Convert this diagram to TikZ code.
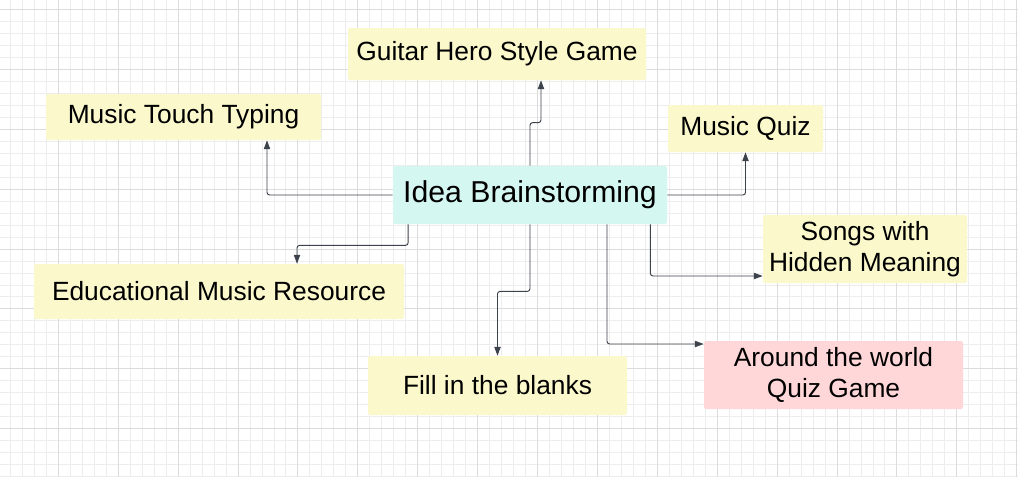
\documentclass[tikz,border=0pt]{standalone}
\usepackage{fontspec}
\setmainfont{Liberation Sans}
\usetikzlibrary{calc}
\usetikzlibrary{positioning}
\usetikzlibrary{arrows.meta}

\definecolor{ideacyan}{HTML}{D5F7F1}
\definecolor{noteyellow}{HTML}{FBF9CC}
\definecolor{notepink}{HTML}{FFD7D8}
\definecolor{linkgray}{HTML}{3D434C}
\definecolor{gridminor}{HTML}{EDEDED}
\definecolor{gridmajor}{HTML}{DCDCDC}

\tikzset{
  note/.style 2 args={rectangle,rounded corners=1.2pt,inner sep=0pt,align=center,
    minimum width=#1*0.02cm,minimum height=#2*0.02cm,fill=noteyellow,
    font=\fontsize{15}{17.6}\selectfont},
  link/.style={draw=linkgray,line width=0.55pt,rounded corners=1.5pt,
    -{Triangle[length=5pt,width=3.6pt]}},
}

\begin{document}
\begin{tikzpicture}[x=0.02cm,y=-0.02cm]
            \useasboundingbox (0,0) rectangle (1018,477);
            \fill [white] (0,0) rectangle (1018,477);

            % grid
            \foreach \k in {0,...,84}
                \draw [gridminor,line width=0.5pt] ({10.38+11.98*\k},0) -- ++(0,477);
            \foreach \k in {0,...,39}
                \draw [gridminor,line width=0.5pt] (0,{9.4+11.98*\k}) -- ++(1018,0);
            \foreach \k in {0,...,16}
                \draw [gridmajor,line width=0.5pt] ({58.3+59.9*\k},0) -- ++(0,477);
            \foreach \k in {0,...,7}
                \draw [gridmajor,line width=0.5pt] (0,{9.4+59.9*\k}) -- ++(1018,0);

            \node [note={274}{58},fill=ideacyan,font=\fontsize{17.2}{20.6}\selectfont] (idea) at (530,195) {Idea Brainstorming};
            \node [note={298}{52}] (guitar) at (497,54) {Guitar Hero Style Game};
            \node [note={275}{46}] (typing) at (183.5,117) {Music Touch Typing};
            \node [note={155}{47}] (quiz) at (745.5,128.5) {Music Quiz};
            \node [note={204}{68}] (songs) at (865,249) {Songs with\\Hidden Meaning};
            \node [note={259}{68},fill=notepink] (world) at (833.5,375) {Around the world\\Quiz Game};
            \node [note={370}{55}] (edu) at (219,291.5) {Educational Music Resource};
            \node [note={259}{59}] (blanks) at (497.5,385.5) {Fill in the blanks};

            \draw [link] (idea.west) -| ($(typing.south)+(83.5,0)$);
            \draw [link] (idea.north) -- ++(0,-43) -| ($(guitar.south)+(44,0)$);
            \draw [link] (idea.east) -| (quiz.south);
            \draw [link] ($(idea.south west)+(15.5,0)$) -- ++(0,21) -| ($(edu.north)+(78,0)$);
            \draw [link] (idea.south) -- ++(0,67) -| (blanks.north);
            \draw [link] ($(idea.south east)+(-17,0)$) |- ($(songs.west)+(0,27)$);
            \draw [link] ($(idea.south)+(77,0)$) |- ($(world.west)+(0,-31)$);
        \end{tikzpicture}
\end{document}
